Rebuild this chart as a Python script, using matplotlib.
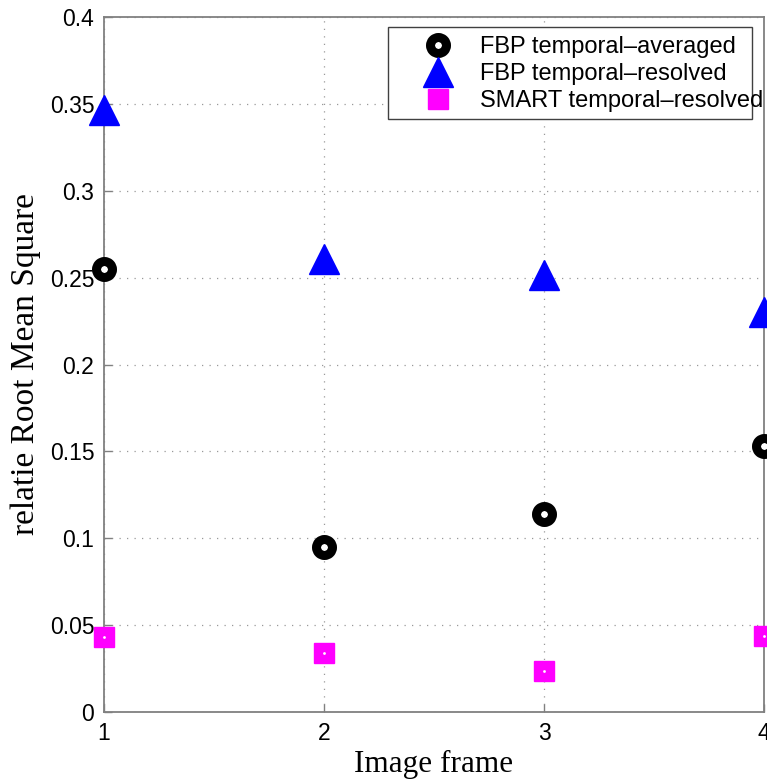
import matplotlib
matplotlib.use("Agg")
import matplotlib.pyplot as plt
from matplotlib.patches import Rectangle

frames = [1, 2, 3, 4]
fbp_avg = [0.255, 0.0948, 0.1138, 0.1529]
fbp_res = [0.3466, 0.2610, 0.2517, 0.2305]
smart_res = [0.0431, 0.0339, 0.0236, 0.0437]
labels = ["FBP temporal\u2013averaged", "FBP temporal\u2013resolved", "SMART temporal\u2013resolved"]
xticks = [1, 2, 3, 4]
yticks = [0, 0.05, 0.1, 0.15, 0.2, 0.25, 0.3, 0.35, 0.4]
ytick_labels = ["0", "0.05", "0.1", "0.15", "0.2", "0.25", "0.3", "0.35", "0.4"]

W, H = 767, 783
fig = plt.figure(figsize=(W / 100, H / 100), dpi=100)
ax = fig.add_axes([104 / W, 1 - 712 / H, 660 / W, 695 / H])

h1, = ax.plot(frames, fbp_avg, linestyle="none", marker="o", ms=11.5, mew=6.5,
              mfc="white", mec="black", clip_on=False, zorder=5, label=labels[0])
h2, = ax.plot(frames, fbp_res, linestyle="none", marker="^", ms=22, mew=1,
              mfc="#0000ff", mec="#0000ff", clip_on=False, zorder=5, label=labels[1])
h3, = ax.plot(frames, smart_res, linestyle="none", marker="s", ms=15, mew=1,
              mfc="#ff00ff", mec="#ff00ff", clip_on=False, zorder=5, label=labels[2])
ax.plot(frames, smart_res, linestyle="none", marker="o", ms=2, mew=0,
        mfc="white", clip_on=False, zorder=6)

ax.set_xlim(1, 4)
ax.set_ylim(0, 0.4)
ax.set_xticks(xticks)
ax.set_yticks(yticks)
ax.set_yticklabels(ytick_labels)
ax.grid(True, linestyle=(0, (1, 5)), color="#999999", linewidth=0.9)
ax.tick_params(direction="in", length=6, width=1, color="#808080",
               labelsize=16.5, pad=7)
for lab in ax.get_xticklabels() + ax.get_yticklabels():
    lab.set_fontfamily("Liberation Sans")
for sp in ax.spines.values():
    sp.set_color("#808080")
    sp.set_linewidth(1.3)

ax.set_xlabel("Image frame", fontfamily="Liberation Serif", fontsize=22.5, labelpad=4)
ax.set_ylabel("relatie Root Mean Square", fontfamily="Liberation Serif", fontsize=24, labelpad=6)

# legend frame
frame = Rectangle((388 / W, 1 - 119 / H), (752 - 388) / W, (119 - 27) / H,
                  transform=fig.transFigure, facecolor="white", edgecolor="#404040",
                  linewidth=1.0, zorder=9)
fig.patches.append(frame)

leg = fig.legend(handles=[h1, h2, h3], loc="upper left",
                 bbox_to_anchor=(395 / W, 1 - 17 / H),
                 frameon=False, prop={"family": "Liberation Sans", "size": 17},
                 labelspacing=0.22, handlelength=2.0, handletextpad=0.82, borderpad=0.3)
leg.set_zorder(10)

fig.savefig("out.png", dpi=100)
